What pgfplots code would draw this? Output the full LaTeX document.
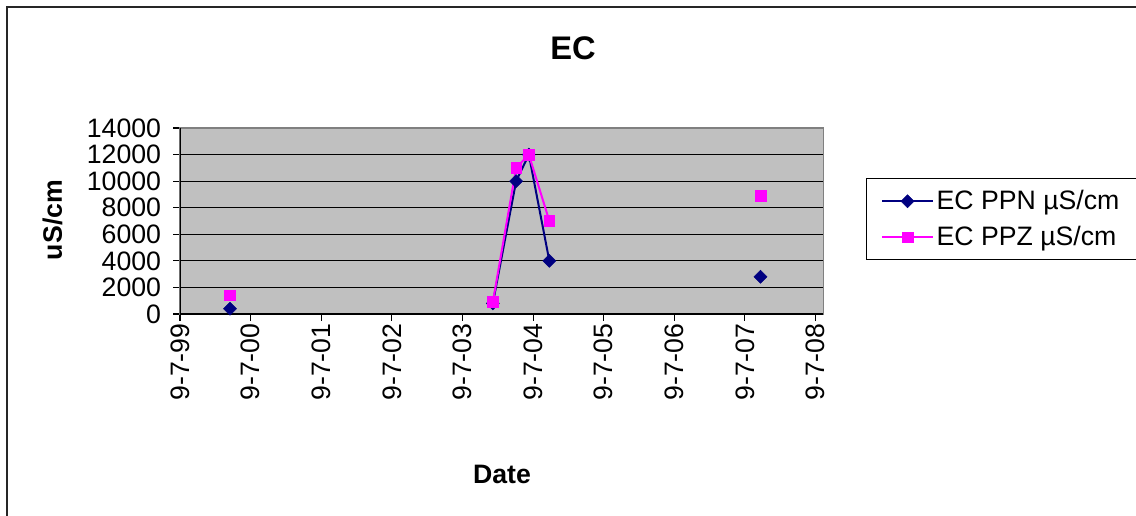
\documentclass[border=0pt]{standalone}
\usepackage{pgfplots}
\pgfplotsset{compat=1.18}
\usepackage{fontspec}
\setmainfont{Liberation Sans}
\definecolor{ppn}{RGB}{0,0,128}
\definecolor{ppz}{RGB}{255,0,255}
\definecolor{plotbg}{RGB}{192,192,192}
\definecolor{plotedge}{RGB}{128,128,128}
\newcommand{\chartfont}{\fontsize{20}{24}\selectfont}
\newcommand{\tickfont}{\fontsize{20}{24}\selectfont}
\begin{document}
\begin{tikzpicture}
\useasboundingbox (-135pt,-150.75pt) rectangle (717pt,235.5pt);
% outer chart frame (left and top edges)
\draw[line width=1.5pt, black!85] (-129.75pt,-160pt) -- (-129.75pt,229.9pt) -- (730pt,229.9pt);
\begin{axis}[
  at={(0pt,0pt)}, anchor=south west,
  scale only axis,
  width=482.5pt, height=139.5pt,
  xmin=0, xmax=9.11,
  ymin=0, ymax=14000,
  xtick={0,1,2,3,4,5,6,7,8,9},
  xticklabels={9-7-99,9-7-00,9-7-01,9-7-02,9-7-03,9-7-04,9-7-05,9-7-06,9-7-07,9-7-08},
  ytick={0,2000,4000,6000,8000,10000,12000,14000},
  scaled y ticks=false,
  xtick pos=left, ytick pos=left,
  tick align=outside,
  major tick length=5pt,
  tick style={black, line width=0.8pt},
  ymajorgrids,
  grid style={black, line width=0.8pt},
  axis line style={plotedge, line width=1.2pt},
  axis background/.style={fill=plotbg},
  /pgf/number format/assume math mode=true,
  /pgf/number format/1000 sep={},
  ticklabel style={font=\tickfont},
  xticklabel style={rotate=90, anchor=east, inner sep=2pt},
  yticklabel style={inner sep=2pt, xshift=-7pt},
  unbounded coords=jump,
  legend style={
    at={(axis description cs:1.0664,0.731)}, anchor=north west,
    draw=black, line width=0.8pt, font=\chartfont,
    row sep=7pt, inner xsep=11pt, inner ysep=7pt,
    cells={anchor=west},
  },
  legend image code/.code={
    \draw[mark repeat=2, mark phase=2] plot coordinates {(0pt,0pt) (19pt,0pt) (38pt,0pt)};
  },
]
\addplot[ppn, line width=1.5pt, mark=square*, mark size=3.45pt,
  mark options={rotate=45, solid, fill=ppn, line width=0.4pt}]
  coordinates {
    (0.708,400)
    (2.5,nan)
    (4.43,800)
    (4.76,10000)
    (4.94,12000)
    (5.23,4000)
    (7.0,nan)
    (8.22,2800)
  };
\addlegendentry{EC PPN µS/cm}
\addplot[ppz, line width=1.5pt, mark=square*, mark size=4pt,
  mark options={solid, fill=ppz, line width=0.4pt}]
  coordinates {
    (0.708,1400)
    (2.5,nan)
    (4.43,900)
    (4.76,11000)
    (4.94,12000)
    (5.23,7000)
    (7.0,nan)
    (8.22,8900)
  };
\addlegendentry{EC PPZ µS/cm}
% left and bottom axis lines are black
\draw[black, line width=1.2pt] (rel axis cs:0,1) -- (rel axis cs:0,0) -- (rel axis cs:1,0);
\end{axis}
% chart title and axis titles
\node[anchor=base, font=\fontsize{24.5}{29}\selectfont\bfseries] at (294.75pt,190.5pt) {EC};
\node[anchor=base, rotate=90, font=\chartfont\bfseries] at (-88.5pt,70.5pt) {uS/cm};
\node[anchor=base, font=\chartfont\bfseries] at (241.5pt,-126.75pt) {Date};
\end{tikzpicture}
\end{document}
